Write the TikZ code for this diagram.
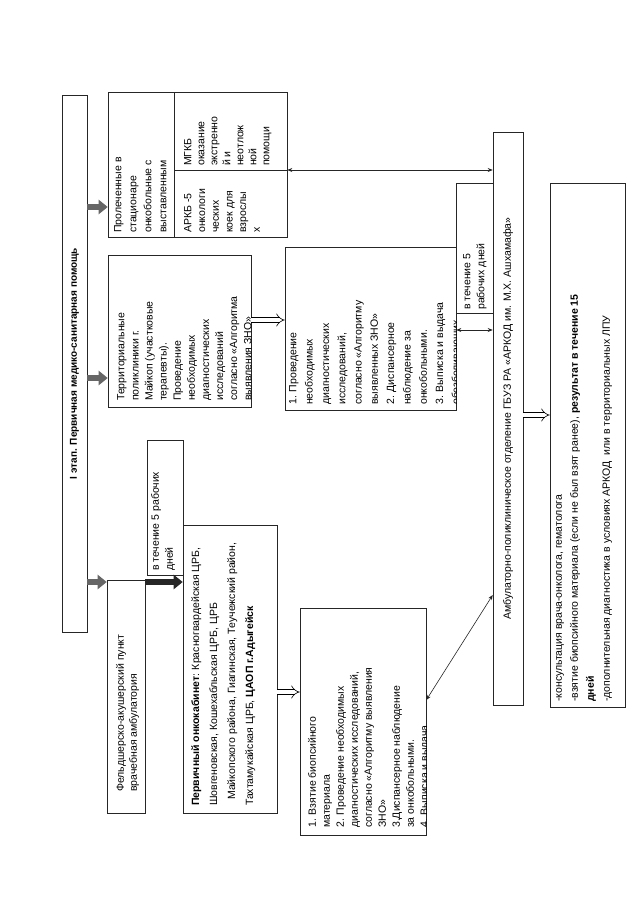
\documentclass[tikz,border=0pt]{standalone}
\usepackage{fontspec}
\setmainfont{Liberation Sans}
\usetikzlibrary{fit,arrows.meta}
\tikzset{
  box/.style={draw=black!85, line width=0.6pt, inner sep=0pt, fit={#1}},
  txt/.style={rotate=90, anchor=north west, align=left, inner sep=0pt, font=\fontsize{10.5}{#1}\selectfont},
  txt/.default=14,
  thickarr/.style={line width=6pt, black!60, -{Triangle[length=9pt,width=14pt]}},
  darkarr/.style={line width=6pt, black!85, -{Triangle[length=9pt,width=14pt]}},
  hollow/.style={double=white, double distance=4pt, line width=0.6pt, -{Implies}},
  dbl/.style={line width=0.6pt, black!85, {Stealth[length=5pt,width=4pt]}-{Stealth[length=5pt,width=4pt]}}
}
\begin{document}
\begin{tikzpicture}[x=1pt,y=-1pt]
\useasboundingbox (0,0) rectangle (640,905);
\fill[white] (0,0) rectangle (640,905);
\coordinate (y170) at (0,170);
\coordinate (y207) at (0,207);
\coordinate (y320) at (0,320);
\coordinate (y330) at (0,330);
\coordinate (y378) at (0,378);
\coordinate (y415) at (0,415);
\coordinate (y582) at (0,582);
\coordinate (y692) at (0,692);
\coordinate (y700) at (0,700);
\coordinate (y595) at (0,595);

% title
\node[box={(62,95) (87,632)}] (title) {};
\node[rotate=90, inner sep=0pt, font=\bfseries\fontsize{10}{12}\selectfont] (titlet) at (title.center) {I этап. Первичная медико-санитарная помощь};

% right column: treated in hospital
\node[box={(108,92) (287,237)}] (prol) {};
\node[box={(174,92) (287,170)}] (mgkb) {};
\node[box={(174,170) (287,237)}] (arkb) {};
\node[txt=15] (prolt) at (114,233) {Пролеченные в\\стационаре\\онкобольные с\\выставленным};
\node[txt=13.7] (arkbt) at (184,233) {АРКБ -5\\онкологи\\ческих\\коек для\\взрослы\\х};
\node[txt=13] (mgkbt) at (184,166) {МГКБ\\оказание\\экстренно\\й и\\неотлож\\ной\\помощи};

% middle column
\node[box={(108,255) (251,407)}] (terr) {};
\begin{scope}
\clip (108,255) rectangle (251,407);
\node[txt=14.1] (terrt) at (117,401) {Территориальные\\поликлиники г.\\Майкоп (участковые\\терапевты).\\Проведение\\необходимых\\диагностических\\исследований\\согласно «Алгоритма\\выявления ЗНО»};
\end{scope}

\node[box={(285,247) (456,410)}] (proc) {};
\begin{scope}
\clip (285,247) rectangle (456,410);
\node[txt=16.3] (proct) at (289,405) {1. Проведение\\необходимых\\диагностических\\исследований,\\согласно «Алгоритму\\выявленных ЗНО»\\2. Диспансерное\\наблюдение за\\онкобольными.\\3. Выписка и выдача\\обезболивающих};
\end{scope}

\node[box={(456,183) (493,313)}] (term1) {};
\node[txt=14] (term1t) at (463,310) {в течение 5\\рабочих дней};

% AROD
\node[box={(493,132) (523,705)}] (ark) {};
\node[rotate=90, inner sep=0pt, font=\fontsize{10.5}{12}\selectfont] (arkt) at (ark.center) {Амбулаторно-поликлиническое отделение ГБУЗ РА «АРКОД им. М.Х. Ашхамафа»};

\node[box={(550,183) (625,707)}] (bot) {};
\node[txt=16] (bott) at (556,702) {-консультация врача-онколога, гематолога\\-взятие биопсийного материала (если не был взят ранее), \textbf{результат в течение 15}\\\textbf{дней}\\-дополнительная диагностика в условиях АРКОД\ \ или в территориальных ЛПУ};

% left column
\node[box={(107,580) (145,813)}] (feld) {};
\node[txt=13] (feldt) at (116,792) {Фельдшерско-акушерский пункт\\врачебная амбулатория};

\node[box={(147,440) (183,575)}] (term2) {};
\node[txt=14] (term2t) at (151,571) {в течение 5 рабочих\\дней};

\node[box={(183,525) (277,813)}] (perv) {};
\node[txt=18] (pervt) at (191,806) {\textbf{Первичный онкокабинет}: Красногвардейская ЦРБ,\\Шовгеновская, Кошехабльская ЦРБ, ЦРБ\\\hspace{6pt}Майкопского района, Гиагинская, Теучежский район,\\Тахтамукайская ЦРБ, \textbf{ЦАОП г.Адыгейск}};

\node[box={(300,608) (426,835)}] (vz) {};
\begin{scope}
\clip (300,608) rectangle (426,835);
\node[txt=14] (vzt) at (308,828) {1. Взятие биопсийного\\материала\\2. Проведение необходимых\\диагностических исследований,\\согласно «Алгоритму выявления\\ЗНО»\\3.Диспансерное наблюдение\\за онкобольными.\\4. Выписка и выдача};
\end{scope}

% connectors
\draw[thickarr] (title.east |- y207) -- (prol.west |- y207);
\draw[thickarr] (title.east |- y378) -- (terr.west |- y378);
\draw[thickarr] (title.east |- y582) -- (feld.west |- y582);
\draw[darkarr] (feld.east |- y582) -- (perv.west |- y582);
\draw[hollow] (terr.east |- y320) -- (proc.west |- y320);
\draw[hollow] (perv.east |- y692) -- (vz.west |- y692);
\draw[hollow] (ark.east |- y415) -- (bot.west |- y415);
\draw[dbl] (prol.east |- y170) -- (ark.west |- y170);
\draw[dbl] (proc.east |- y330) -- (ark.west |- y330);
\draw[dbl] (vz.east |- y700) -- (ark.west |- y595);
\end{tikzpicture}
\end{document}
